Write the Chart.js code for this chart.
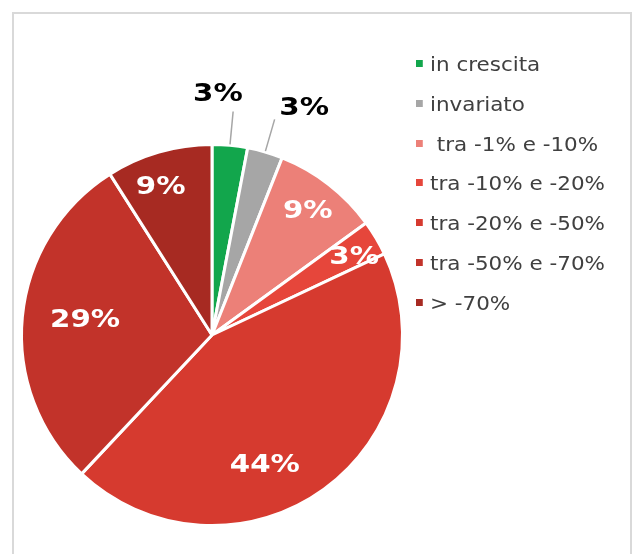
<!DOCTYPE html>
<html>
<head>
<meta charset="utf-8">
<script src="https://cdn.jsdelivr.net/npm/chart.js@4"></script>
<style>
  html, body { margin: 0; padding: 0; background: #fff; }
  body { width: 633px; height: 554px; position: relative; overflow: hidden; }
  #frame {
    position: absolute; left: 12px; top: 12px; width: 620px; height: 560px;
    border: 2px solid #d9d9d9; box-sizing: border-box;
  }
  #wrap { position: absolute; left: 0; top: 0; width: 633px; height: 554px; }
  #js-legend {
    position: absolute; left: 416px; top: 53px; margin: 0; padding: 0; list-style: none;
    font-family: "DejaVu Sans", Verdana, sans-serif; font-size: 19px;
    color: #404040; transform: scaleX(1.13); transform-origin: 0 0;
  }
  #js-legend li { height: 39.8px; line-height: 22px; white-space: pre; }
  #js-legend span.box {
    display: inline-block; width: 6.2px; height: 7px; margin-right: 6.2px; vertical-align: 4px;
  }
</style>
</head>
<body>
<div id="frame"></div>
<div id="wrap"><canvas id="pie"></canvas></div>
<ul id="js-legend"></ul>
<script>
const categories = ["in crescita", "invariato", " tra -1% e -10%", "tra -10% e -20%", "tra -20% e -50%", "tra -50% e -70%", "> -70%"];
const shares = [3, 3, 9, 3, 44, 29, 9];
const sliceColors = ["#12a64c", "#a6a6a6", "#ec8078", "#e6463b", "#d63a2f", "#c2332a", "#a72a22"];

// label placement per slice: radius fraction, angle shift (deg), outside?
const labelRadius = [1.26, 1.28, 0.82, 0.85, 0.74, 0.67, 0.82];
const labelShift = [-4, 6, 0, 2, 14, 1, -3];
const outside = [true, true, false, false, false, false, false];

const pctLabels = {
  id: "pctLabels",
  afterDraw(chart) {
    const ctx = chart.ctx;
    const arcs = chart.getDatasetMeta(0).data;
    arcs.forEach((arc, i) => {
      const { x, y, startAngle, endAngle, outerRadius } = arc.getProps(["x", "y", "startAngle", "endAngle", "outerRadius"], true);
      const mid = (startAngle + endAngle) / 2 + labelShift[i] * Math.PI / 180;
      const r = outerRadius * labelRadius[i];
      const lx = x + Math.cos(mid) * r;
      const ly = y + Math.sin(mid) * r;
      ctx.save();
      if (outside[i]) {
        const a = (startAngle + endAngle) / 2;
        ctx.strokeStyle = "#a6a6a6";
        ctx.lineWidth = 1.5;
        ctx.beginPath();
        ctx.moveTo(x + Math.cos(a) * (outerRadius + 1), y + Math.sin(a) * (outerRadius + 1));
        ctx.lineTo(x + Math.cos(a) * (outerRadius + 34), y + Math.sin(a) * (outerRadius + 34));
        ctx.stroke();
      }
      // wide Verdana-like look: stretch the label horizontally
      ctx.translate(lx, ly);
      ctx.scale(1.22, 1);
      ctx.font = "bold 24px 'DejaVu Sans', Verdana, sans-serif";
      ctx.textAlign = "center";
      ctx.textBaseline = "middle";
      ctx.fillStyle = outside[i] ? "#000" : "#fff";
      ctx.fillText(shares[i] + "%", 0, 0);
      ctx.restore();
    });
  }
};

window.addEventListener("load", function () {
  const ctx = document.getElementById("pie").getContext("2d");
  const pieChart = new Chart(ctx, {
    type: "pie",
    data: {
      labels: categories,
      datasets: [{
        data: shares,
        backgroundColor: sliceColors,
        borderColor: "#ffffff",
        borderWidth: 3,
      }],
    },
    options: {
      responsive: true,
      maintainAspectRatio: false,
      animation: false,
      layout: { padding: { left: 20, right: 229, top: 143, bottom: 27 } },
      plugins: {
        legend: { display: false },
        tooltip: { enabled: false },
      },
    },
    plugins: [pctLabels],
  });

  const legend = document.getElementById("js-legend");
  pieChart.data.labels.forEach((label, i) => {
    const li = document.createElement("li");
    const box = document.createElement("span");
    box.className = "box";
    box.style.background = sliceColors[i];
    li.appendChild(box);
    li.appendChild(document.createTextNode(label));
    legend.appendChild(li);
  });
});
</script>
</body>
</html>
